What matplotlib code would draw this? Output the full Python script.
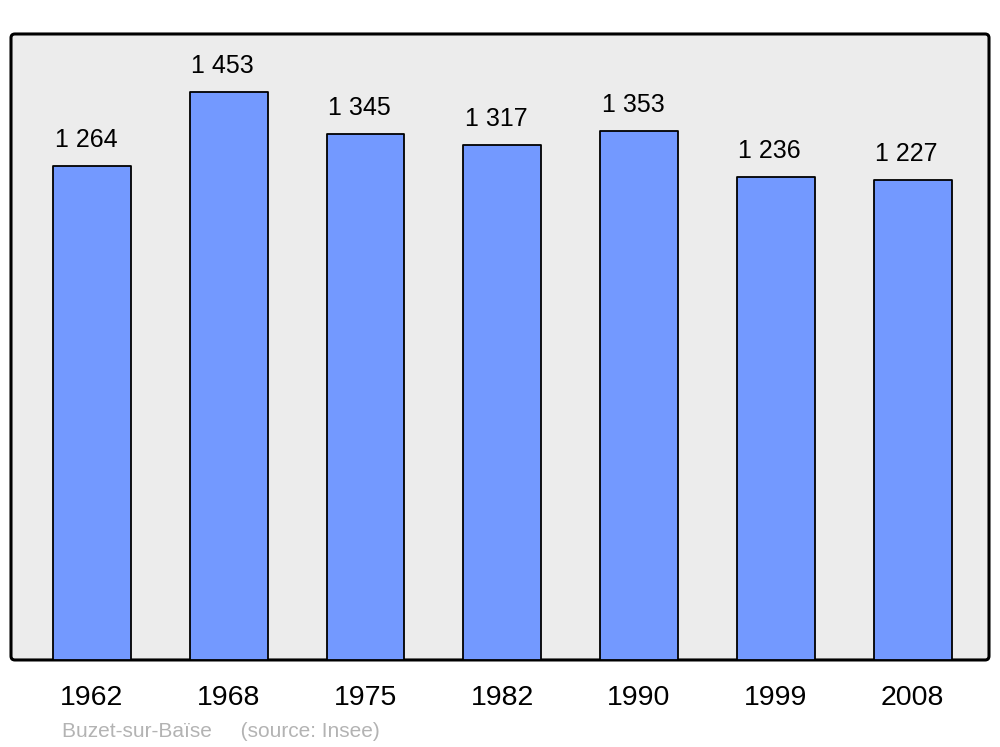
import matplotlib.pyplot as plt
from matplotlib.patches import FancyBboxPatch

plt.rcParams["font.family"] = ["Liberation Sans", "DejaVu Sans"]

years = ["1962", "1968", "1975", "1982", "1990", "1999", "2008"]
population = [1264, 1453, 1345, 1317, 1353, 1236, 1227]
labels = ["1 264", "1 453", "1 345", "1 317", "1 353", "1 236", "1 227"]
caption = "Buzet-sur-Baïse     (source: Insee)"

fig = plt.figure(figsize=(10, 7.47), dpi=100)
ax = fig.add_axes([0.011, 0.1165, 0.978, 0.838])
ax.set_facecolor("none")

# rounded grey frame
frame = FancyBboxPatch((0, 0), 1, 1, boxstyle="round,pad=0,rounding_size=0.004",
                       transform=ax.transAxes, facecolor="#ececec", edgecolor="black",
                       linewidth=2.2, mutation_aspect=1.56, clip_on=False, zorder=0)
ax.add_patch(frame)

x = list(range(len(years)))
bars = ax.bar(x, population, width=0.57, color="#7399ff", edgecolor="black",
              linewidth=1.3, zorder=2)
for b in bars:
    b.set_joinstyle("round")

for xi, v, lab in zip(x, population, labels):
    ax.annotate(lab, (xi, v), xytext=(-6, 19), textcoords="offset pixels",
                ha="center", va="baseline", fontsize=18, color="black")

for xi, yr in zip(x, years):
    ax.text(xi, -0.06, yr, transform=ax.get_xaxis_transform(),
            ha="center", va="center", fontsize=20.5, color="black")

ax.set_xlim(-0.592, 6.559)
ax.set_ylim(0, 1601)
ax.set_xticks([])
ax.set_yticks([])
for s in ax.spines.values():
    s.set_visible(False)

fig.text(0.062, 1 - 737 / 747, caption, ha="left", va="baseline",
         fontsize=15, color="#b3b3b3")

fig.savefig("out.png", dpi=100, facecolor="white")
